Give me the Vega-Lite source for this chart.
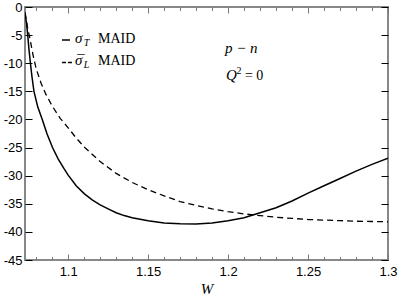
{
  "$schema": "https://vega.github.io/schema/vega-lite/v6.json",
  "width": 363,
  "height": 253,
  "autosize": "none",
  "padding": {"left": 25, "top": 7, "right": 11, "bottom": 37},
  "background": "white",
  "config": {
    "view": {"stroke": "#888888", "strokeWidth": 2},
    "axis": {
      "domain": false,
      "grid": false,
      "labelFont": "Liberation Sans",
      "labelFontSize": 13,
      "labelColor": "#000000",
      "labelFlush": false,
      "labelOverlap": false,
      "labelBound": false
    }
  },
  "datasets": {
    "sigT": [
      {"W": 1.0730, "v": -1.0},
      {"W": 1.0740, "v": -3.0},
      {"W": 1.0747, "v": -5.0},
      {"W": 1.0755, "v": -7.6},
      {"W": 1.0764, "v": -10.0},
      {"W": 1.0774, "v": -12.5},
      {"W": 1.0786, "v": -15.0},
      {"W": 1.0810, "v": -17.8},
      {"W": 1.0838, "v": -20.0},
      {"W": 1.0868, "v": -22.6},
      {"W": 1.0902, "v": -25.0},
      {"W": 1.0937, "v": -27.0},
      {"W": 1.0975, "v": -28.8},
      {"W": 1.1000, "v": -29.9},
      {"W": 1.1050, "v": -31.8},
      {"W": 1.1100, "v": -33.2},
      {"W": 1.1150, "v": -34.3},
      {"W": 1.1200, "v": -35.2},
      {"W": 1.1250, "v": -35.9},
      {"W": 1.1300, "v": -36.6},
      {"W": 1.1350, "v": -37.1},
      {"W": 1.1400, "v": -37.5},
      {"W": 1.1500, "v": -38.0},
      {"W": 1.1600, "v": -38.4},
      {"W": 1.1700, "v": -38.55},
      {"W": 1.1800, "v": -38.6},
      {"W": 1.1900, "v": -38.4},
      {"W": 1.2000, "v": -38.0},
      {"W": 1.2100, "v": -37.5},
      {"W": 1.2150, "v": -37.05},
      {"W": 1.2200, "v": -36.6},
      {"W": 1.2300, "v": -35.7},
      {"W": 1.2400, "v": -34.5},
      {"W": 1.2500, "v": -33.1},
      {"W": 1.2600, "v": -31.8},
      {"W": 1.2700, "v": -30.5},
      {"W": 1.2800, "v": -29.2},
      {"W": 1.2900, "v": -28.0},
      {"W": 1.3000, "v": -26.9}
    ],
    "sigL": [
      {"W": 1.0730, "v": -1.0},
      {"W": 1.0745, "v": -3.5},
      {"W": 1.0760, "v": -5.5},
      {"W": 1.0780, "v": -8.5},
      {"W": 1.0800, "v": -11.0},
      {"W": 1.0830, "v": -13.5},
      {"W": 1.0860, "v": -15.5},
      {"W": 1.0900, "v": -17.6},
      {"W": 1.0950, "v": -19.8},
      {"W": 1.1000, "v": -21.5},
      {"W": 1.1050, "v": -23.3},
      {"W": 1.1100, "v": -24.9},
      {"W": 1.1200, "v": -27.5},
      {"W": 1.1300, "v": -29.6},
      {"W": 1.1400, "v": -31.2},
      {"W": 1.1500, "v": -32.5},
      {"W": 1.1600, "v": -33.6},
      {"W": 1.1700, "v": -34.6},
      {"W": 1.1800, "v": -35.3},
      {"W": 1.1900, "v": -35.9},
      {"W": 1.2000, "v": -36.4},
      {"W": 1.2100, "v": -36.8},
      {"W": 1.2200, "v": -37.1},
      {"W": 1.2300, "v": -37.4},
      {"W": 1.2400, "v": -37.6},
      {"W": 1.2500, "v": -37.8},
      {"W": 1.2600, "v": -37.9},
      {"W": 1.2700, "v": -38.0},
      {"W": 1.2800, "v": -38.1},
      {"W": 1.2900, "v": -38.15},
      {"W": 1.3000, "v": -38.2}
    ],
    "legSolid": [{"x": 1.0961, "x2": 1.1011, "y": -5.87}],
    "legDash": [{"x": 1.0961, "x2": 1.1024, "y": -9.87}],
    "italicText": [
      {"x": 1.10425, "y": -6.4, "t": "σ"},
      {"x": 1.10425, "y": -10.32, "t": "σ"},
      {"x": 1.1049, "y": -10.32, "t": "¯"},
      {"x": 1.198, "y": -8.18, "t": "p − n"},
      {"x": 1.19863, "y": -12.98, "t": "Q"}
    ],
    "subText": [
      {"x": 1.1097, "y": -6.4, "t": "T"},
      {"x": 1.1097, "y": -10.32, "t": "L"}
    ],
    "supText": [
      {"x": 1.2053, "y": -12.98, "t": "2"}
    ],
    "romanText": [
      {"x": 1.11863, "y": -6.4, "t": "MAID"},
      {"x": 1.11863, "y": -10.32, "t": "MAID"},
      {"x": 1.2105, "y": -12.98, "t": "= 0"}
    ]
  },
  "layer": [
    {
      "data": {"name": "sigT"},
      "mark": {"type": "line", "color": "#000000", "strokeWidth": 1.5, "clip": true},
      "encoding": {
        "x": {"field": "W", "type": "quantitative",
          "scale": {"domain": [1.073, 1.3], "nice": false, "zero": false},
          "axis": {"orient": "bottom", "values": [1.1, 1.15, 1.2, 1.25, 1.3],
            "tickSize": -6, "tickColor": "#777777", "tickWidth": 1,
            "labelPadding": 11, "labelExpr": "datum.value + ''",
            "title": "W", "titleFont": "Liberation Serif", "titleFontStyle": "italic",
            "titleFontWeight": "normal", "titleFontSize": 15, "titleColor": "#000000", "titlePadding": 3}},
        "y": {"field": "v", "type": "quantitative",
          "scale": {"domain": [-45, 0], "nice": false, "zero": false},
          "axis": {"orient": "left", "values": [-45, -40, -35, -30, -25, -20, -15, -10, -5, 0],
            "tickSize": -7, "tickColor": "#000000", "tickWidth": 1,
            "labelPadding": 10, "labelExpr": "datum.value + ''", "title": null}}
      }
    },
    {
      "data": {"name": "sigL"},
      "mark": {"type": "line", "color": "#000000", "strokeWidth": 1.3, "strokeDash": [6, 4], "clip": true},
      "encoding": {
        "x": {"field": "W", "type": "quantitative",
          "scale": {"domain": [1.073, 1.3], "nice": false, "zero": false},
          "axis": {"orient": "top", "values": [1.1, 1.15, 1.2, 1.25, 1.3],
            "tickSize": -6, "tickColor": "#777777", "tickWidth": 1, "labels": false, "title": null}},
        "y": {"field": "v", "type": "quantitative",
          "scale": {"domain": [-45, 0], "nice": false, "zero": false},
          "axis": {"orient": "right", "values": [-45, -40, -35, -30, -25, -20, -15, -10, -5, 0],
            "tickSize": -7, "tickColor": "#000000", "tickWidth": 1, "labels": false, "title": null}}
      }
    },
    {
      "data": {"name": "legSolid"},
      "mark": {"type": "rule", "color": "#000000", "strokeWidth": 1.5},
      "encoding": {
        "x": {"field": "x", "type": "quantitative",
          "scale": {"domain": [1.073, 1.3], "nice": false, "zero": false},
          "axis": {"orient": "bottom", "values": [1.08, 1.09, 1.11, 1.12, 1.13, 1.14, 1.16, 1.17, 1.18, 1.19, 1.21, 1.22, 1.23, 1.24, 1.26, 1.27, 1.28, 1.29],
            "tickSize": -3.5, "tickColor": "#777777", "tickWidth": 1, "labels": false, "title": null}},
        "x2": {"field": "x2"},
        "y": {"field": "y", "type": "quantitative",
          "scale": {"domain": [-45, 0], "nice": false, "zero": false}, "axis": null}
      }
    },
    {
      "data": {"name": "legDash"},
      "mark": {"type": "rule", "color": "#000000", "strokeWidth": 1.3, "strokeDash": [4, 2]},
      "encoding": {
        "x": {"field": "x", "type": "quantitative",
          "scale": {"domain": [1.073, 1.3], "nice": false, "zero": false},
          "axis": {"orient": "top", "values": [1.08, 1.09, 1.11, 1.12, 1.13, 1.14, 1.16, 1.17, 1.18, 1.19, 1.21, 1.22, 1.23, 1.24, 1.26, 1.27, 1.28, 1.29],
            "tickSize": -3.5, "tickColor": "#777777", "tickWidth": 1, "labels": false, "title": null}},
        "x2": {"field": "x2"},
        "y": {"field": "y", "type": "quantitative",
          "scale": {"domain": [-45, 0], "nice": false, "zero": false}, "axis": null}
      }
    },
    {
      "data": {"name": "italicText"},
      "mark": {"type": "text", "font": "Liberation Serif", "fontStyle": "italic", "fontSize": 15, "align": "left", "baseline": "alphabetic", "color": "#000000"},
      "encoding": {
        "x": {"field": "x", "type": "quantitative", "scale": {"domain": [1.073, 1.3], "nice": false, "zero": false}, "axis": null},
        "y": {"field": "y", "type": "quantitative", "scale": {"domain": [-45, 0], "nice": false, "zero": false}, "axis": null},
        "text": {"field": "t"}
      }
    },
    {
      "data": {"name": "subText"},
      "mark": {"type": "text", "font": "Liberation Serif", "fontStyle": "italic", "fontSize": 10, "align": "left", "baseline": "alphabetic", "dy": 3, "color": "#000000"},
      "encoding": {
        "x": {"field": "x", "type": "quantitative", "scale": {"domain": [1.073, 1.3], "nice": false, "zero": false}, "axis": null},
        "y": {"field": "y", "type": "quantitative", "scale": {"domain": [-45, 0], "nice": false, "zero": false}, "axis": null},
        "text": {"field": "t"}
      }
    },
    {
      "data": {"name": "supText"},
      "mark": {"type": "text", "font": "Liberation Serif", "fontSize": 10, "align": "left", "baseline": "alphabetic", "dy": -6, "color": "#000000"},
      "encoding": {
        "x": {"field": "x", "type": "quantitative", "scale": {"domain": [1.073, 1.3], "nice": false, "zero": false}, "axis": null},
        "y": {"field": "y", "type": "quantitative", "scale": {"domain": [-45, 0], "nice": false, "zero": false}, "axis": null},
        "text": {"field": "t"}
      }
    },
    {
      "data": {"name": "romanText"},
      "mark": {"type": "text", "font": "Liberation Serif", "fontSize": 14, "align": "left", "baseline": "alphabetic", "color": "#000000"},
      "encoding": {
        "x": {"field": "x", "type": "quantitative", "scale": {"domain": [1.073, 1.3], "nice": false, "zero": false}, "axis": null},
        "y": {"field": "y", "type": "quantitative", "scale": {"domain": [-45, 0], "nice": false, "zero": false}, "axis": null},
        "text": {"field": "t"}
      }
    }
  ],
  "resolve": {"axis": {"x": "independent", "y": "independent"}}
}
